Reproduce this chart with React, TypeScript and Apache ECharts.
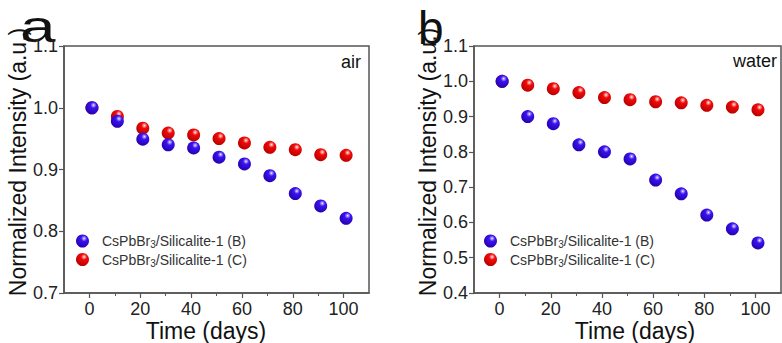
import React, { useEffect, useRef } from "react";
import * as echarts from "echarts";

const days = [1, 11, 21, 31, 41, 51, 61, 71, 81, 91, 101];
const airB = [1.0, 0.978, 0.949, 0.94, 0.935, 0.92, 0.909, 0.89, 0.861, 0.841, 0.821];
const airC = [1.0, 0.986, 0.967, 0.959, 0.956, 0.95, 0.943, 0.936, 0.932, 0.924, 0.923];
const waterB = [1.0, 0.9, 0.88, 0.82, 0.8, 0.78, 0.72, 0.681, 0.621, 0.582, 0.542];
const waterC = [1.0, 0.989, 0.979, 0.968, 0.954, 0.948, 0.942, 0.939, 0.932, 0.927, 0.919];
const nameB = "CsPbBr3/Silicalite-1 (B)";
const nameC = "CsPbBr3/Silicalite-1 (C)";
const xMajor = [0, 20, 40, 60, 80, 100];
const xMinor = [10, 30, 50, 70, 90];
const yTicksA = [0.7, 0.8, 0.9, 1.0, 1.1];
const yTicksB = [0.4, 0.5, 0.6, 0.7, 0.8, 0.9, 1.0, 1.1];

const FONT = "'Liberation Sans', Arial, Helvetica, sans-serif";
const AXIS = "#555555";

const blueFill = () =>
  new echarts.graphic.RadialGradient(0.62, 0.3, 0.72, [
    { offset: 0, color: "#ffffff" },
    { offset: 0.1, color: "#a89cff" },
    { offset: 0.32, color: "#3c12ee" },
    { offset: 1, color: "#2400b0" },
  ]);
const redFill = () =>
  new echarts.graphic.RadialGradient(0.62, 0.3, 0.72, [
    { offset: 0, color: "#ffffff" },
    { offset: 0.1, color: "#ffa0a0" },
    { offset: 0.32, color: "#f00a0a" },
    { offset: 1, color: "#b80000" },
  ]);

function pairs(y: number[]) {
  return days.map((d, i) => [d, y[i]]);
}

export default function App() {
  const ref = useRef<HTMLDivElement>(null);
  useEffect(() => {
    if (!ref.current) return;
    const chart = echarts.init(ref.current, null, { renderer: "svg" });
    const grids = [
      { left: 64, top: 46, width: 305, height: 247 },
      { left: 474, top: 46, width: 307, height: 247 },
    ];
    const xAxes: any[] = [];
    const yAxes: any[] = [];
    [0, 1].forEach((g) => {
      xAxes.push({
        type: "value",
        gridIndex: g,
        min: -10,
        max: 110,
        position: "bottom",
        axisLine: { show: true, onZero: false, lineStyle: { color: AXIS, width: 1.5 } },
        axisTick: { show: true, customValues: xMajor, length: 5, inside: false, lineStyle: { color: AXIS, width: 1.2 } },
        axisLabel: { customValues: xMajor, fontSize: 18, color: "#222", fontFamily: FONT, margin: 7 },
        splitLine: { show: false },
      });
      xAxes.push({
        type: "value",
        gridIndex: g,
        min: -10,
        max: 110,
        position: "bottom",
        axisLine: { show: false, onZero: false },
        axisTick: { show: true, customValues: xMinor, length: 3, lineStyle: { color: AXIS, width: 1 } },
        axisLabel: { show: false },
        splitLine: { show: false },
      });
      const ticks = g === 0 ? yTicksA : yTicksB;
      yAxes.push({
        type: "value",
        gridIndex: g,
        min: ticks[0],
        max: ticks[ticks.length - 1],
        axisLine: { show: true, onZero: false, lineStyle: { color: AXIS, width: 1.5 } },
        axisTick: { show: true, customValues: ticks, length: 5, lineStyle: { color: AXIS, width: 1.2 } },
        axisLabel: {
          customValues: ticks,
          formatter: (v: number) => v.toFixed(1),
          fontSize: 18,
          color: "#222",
          fontFamily: FONT,
          margin: 6,
        },
        splitLine: { show: false },
      });
    });

    const sym = (name: string, g: number, y: number[], fill: any) => ({
      type: "scatter",
      name,
      xAxisIndex: g * 2,
      yAxisIndex: g,
      data: pairs(y),
      symbol: "circle",
      symbolSize: 13,
      itemStyle: { color: fill, borderWidth: 0, opacity: 1 },
      emphasis: { disabled: true },
    });

    const legendBase = (left: number, top: number) => ({
      left,
      top,
      orient: "vertical",
      itemWidth: 13,
      itemHeight: 13,
      itemGap: 3,
      selectedMode: false,
      data: [nameB, nameC],
      formatter: (n: string) => n.replace("Br3", "Br{sub|3}"),
      textStyle: {
        fontSize: 14,
        color: "#333",
        fontFamily: FONT,
        padding: [0, 0, 0, 8],
        rich: { sub: { fontSize: 10, color: "#333", fontFamily: FONT, padding: [7, 0, 0, 0] } },
      },
    });

    const ytitle = (x: number, y: number, size: number) => ({
      type: "text",
      x,
      y,
      rotation: Math.PI / 2,
      style: {
        text: "Normalized Intensity (a.u.)",
        fontSize: size,
        fontFamily: FONT,
        fill: "#111",
        align: "center",
        verticalAlign: "middle",
      },
    });
    const xtitle = (x: number, y: number, size: number) => ({
      type: "text",
      x,
      y,
      style: {
        text: "Time (days)",
        fontSize: size,
        fontFamily: FONT,
        fill: "#111",
        align: "center",
        verticalAlign: "middle",
      },
    });
    const label = (text: string, x: number, y: number, size: number, align = "left", scaleX = 1) => ({
      type: "text",
      x,
      y,
      scaleX,
      style: { text, fontSize: size, fontFamily: FONT, fill: "#111", align, verticalAlign: "middle" },
    });

    chart.setOption({
      animation: false,
      backgroundColor: "#ffffff",
      grid: grids.map((g) => ({ ...g, show: true, borderColor: AXIS, borderWidth: 1.5, backgroundColor: "transparent" })),
      xAxis: xAxes,
      yAxis: yAxes,
      legend: [legendBase(71, 229), legendBase(479, 229)],
      series: [
        sym(nameC, 0, airC, redFill()),
        sym(nameB, 0, airB, blueFill()),
        sym(nameC, 1, waterC, redFill()),
        sym(nameB, 1, waterB, blueFill()),
      ],
      graphic: [
        ytitle(18, 162, 23),
        ytitle(428, 162, 23),
        xtitle(206, 331, 23),
        xtitle(635, 331, 23),
        label("air", 361, 62, 18, "right"),
        label("water", 777, 61, 18, "right"),
        label("a", 20, 27, 44, "left", 1.45),
        label("b", 418, 28, 46),
      ],
    });
    return () => chart.dispose();
  }, []);
  return (
    <div
      ref={ref}
      style={{ position: "fixed", left: 0, top: 0, width: 782, height: 343, background: "#fff" }}
    />
  );
}
